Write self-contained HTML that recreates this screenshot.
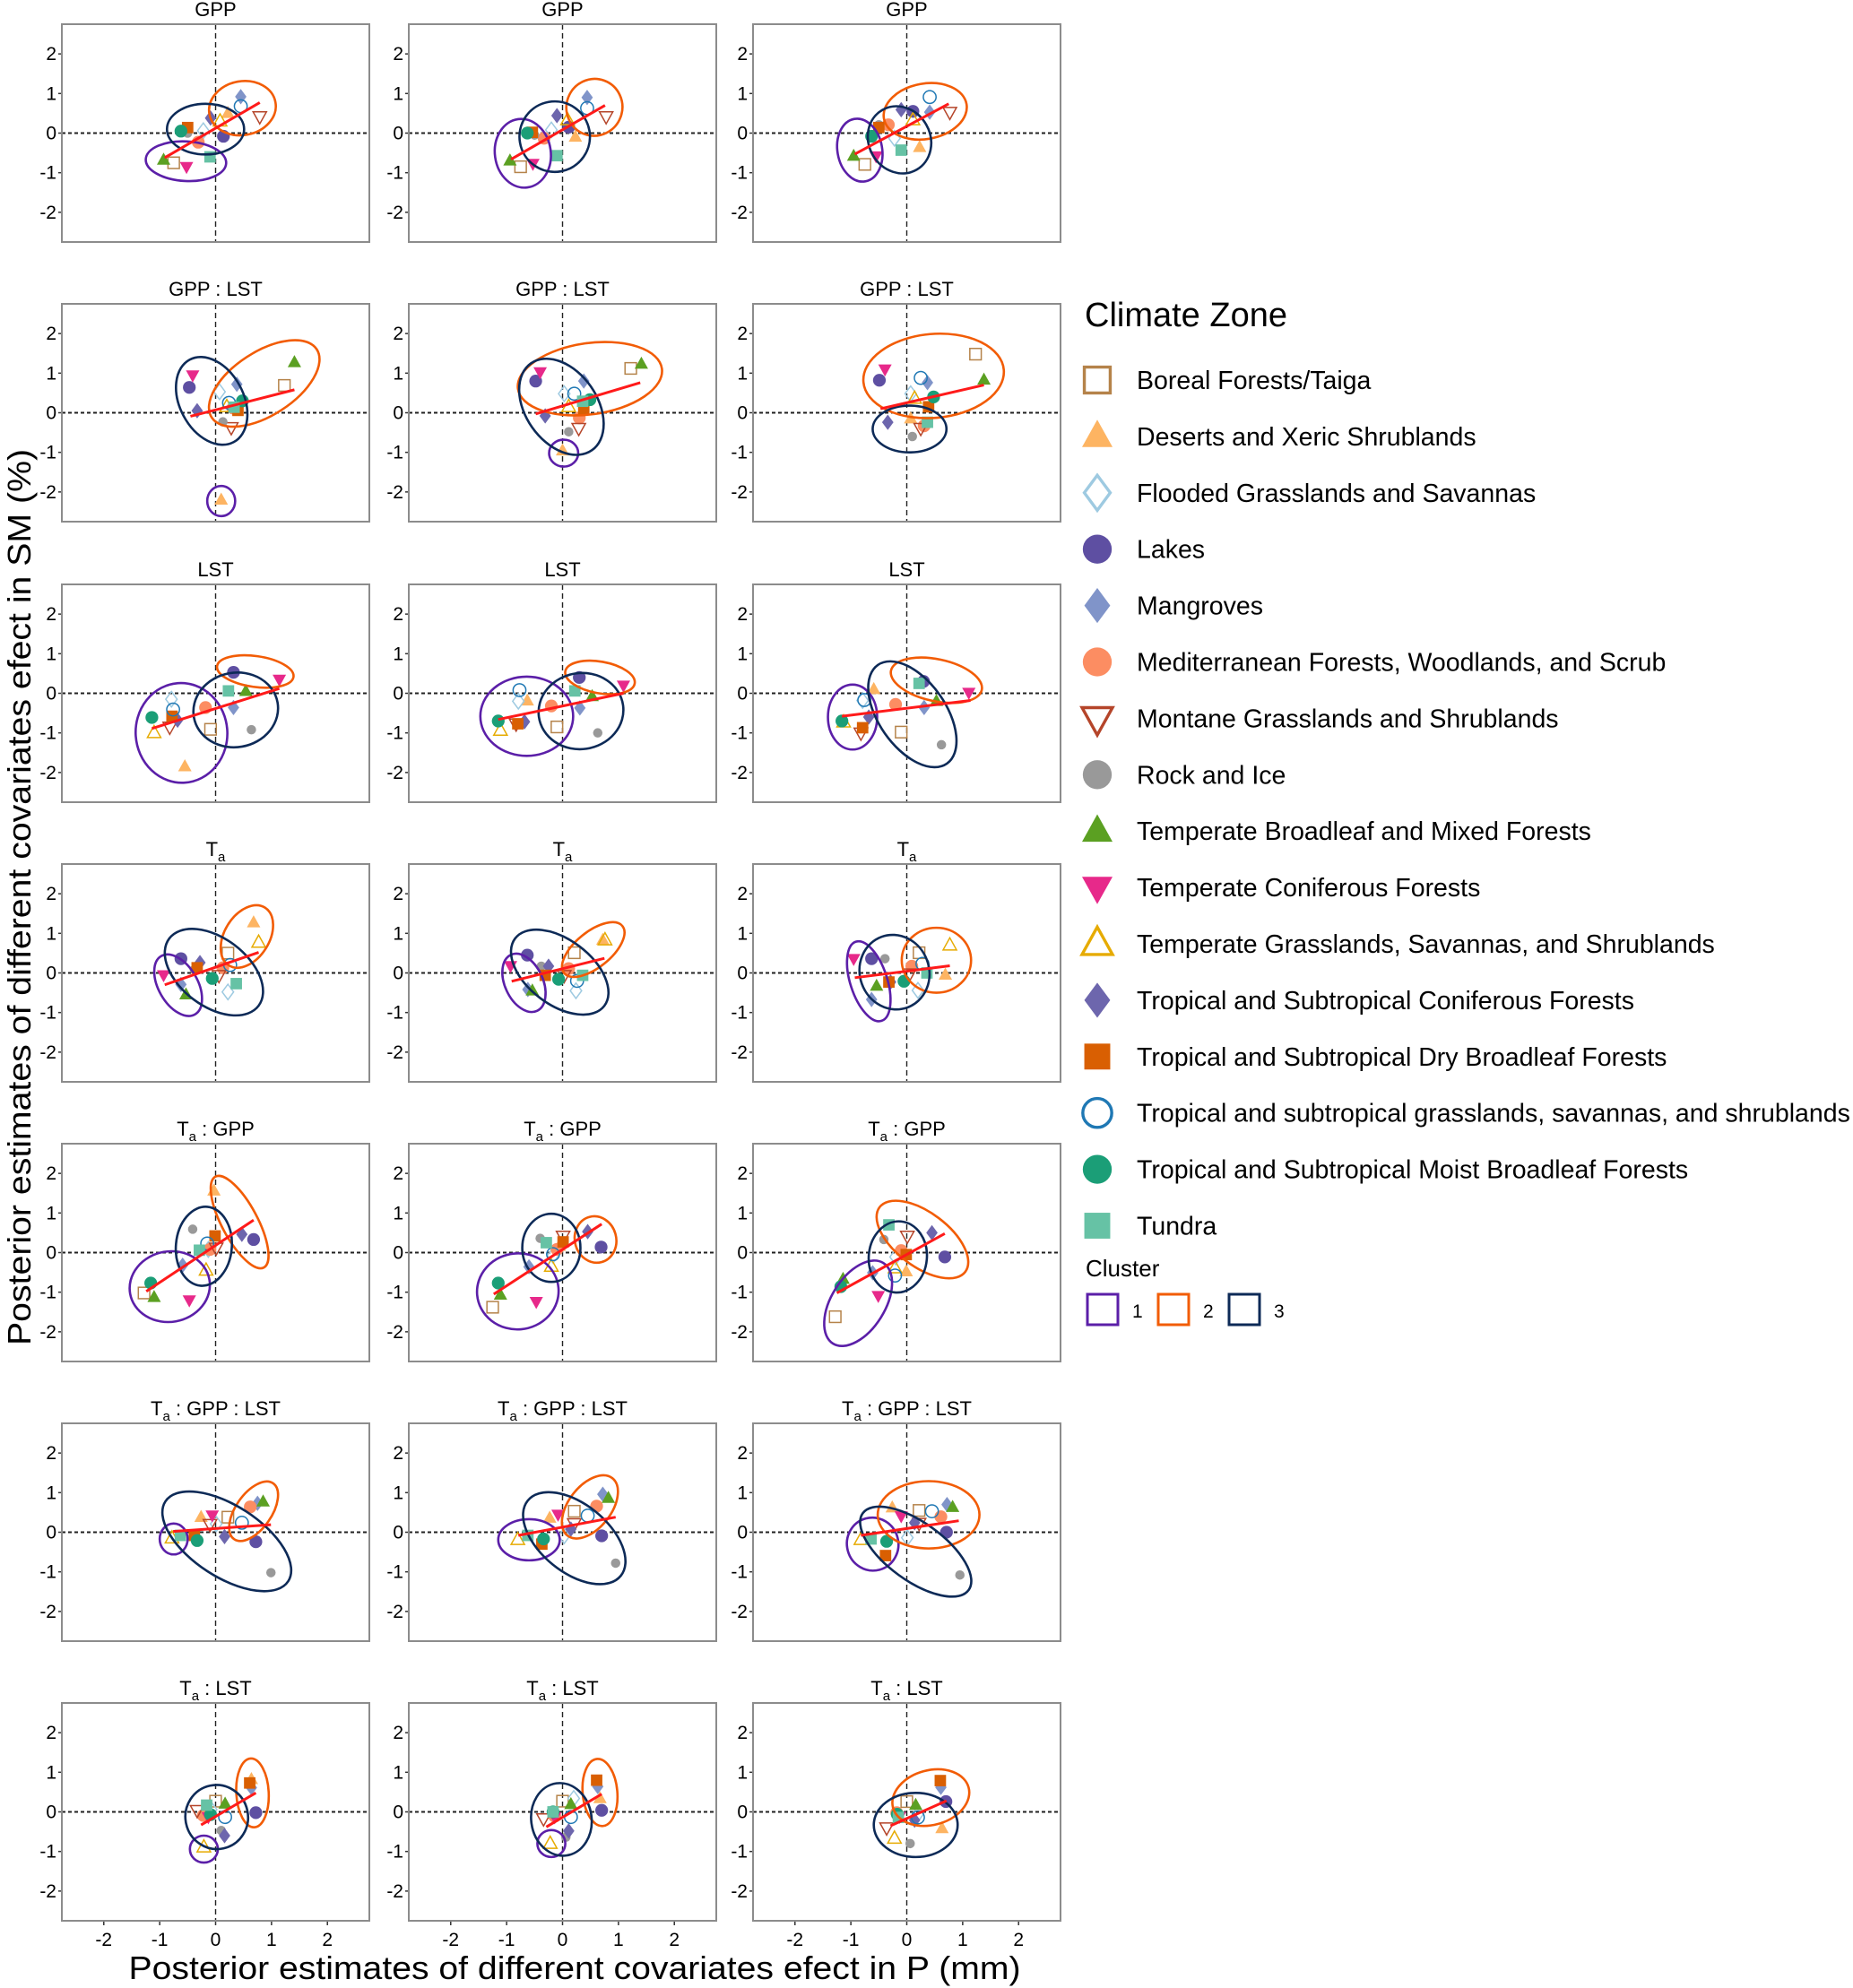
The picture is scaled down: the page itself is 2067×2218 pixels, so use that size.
<!DOCTYPE html>
<html><head><meta charset="utf-8"><style>
html,body{margin:0;padding:0;background:#fff;}
svg{display:block;font-family:"Liberation Sans",Arial,sans-serif;}
</style></head><body>
<svg id="fig" width="2067" height="2218" viewBox="0 0 2067 2218" xmlns="http://www.w3.org/2000/svg"></svg>
<script>
// ---- data ----
const rowTitles = ['GPP','GPP : LST','LST','T_a','T_a : GPP','T_a : GPP : LST','T_a : LST'];
const zoneNames = ['Boreal Forests/Taiga','Deserts and Xeric Shrublands','Flooded Grasslands and Savannas','Lakes','Mangroves','Mediterranean Forests, Woodlands, and Scrub','Montane Grasslands and Shrublands','Rock and Ice','Temperate Broadleaf and Mixed Forests','Temperate Coniferous Forests','Temperate Grasslands, Savannas, and Shrublands','Tropical and Subtropical Coniferous Forests','Tropical and Subtropical Dry Broadleaf Forests','Tropical and subtropical grasslands, savannas, and shrublands','Tropical and Subtropical Moist Broadleaf Forests','Tundra'];
const tickVals = [-2,-1,0,1,2];
const tickLabels = ['-2','-1','0','1','2'];
const clusterLabels = ['1','2','3'];
// x values per panel (16 zones each, legend order)
const xVals = [
[-0.75,0.22,-0.22,0.14,0.45,-0.31,0.79,-0.5,-0.93,-0.52,0.08,-0.09,-0.5,0.45,-0.62,-0.1],
[-0.75,0.23,-0.2,0.11,0.44,-0.33,0.78,-0.5,-0.94,-0.53,0.09,-0.1,-0.54,0.44,-0.63,-0.1],
[-0.75,0.23,-0.22,0.11,0.41,-0.33,0.77,-0.5,-0.95,-0.55,0.11,-0.1,-0.5,0.41,-0.63,-0.1],
[1.23,0.1,0.07,-0.47,0.38,0.31,0.28,0.13,1.41,-0.41,0.2,-0.33,0.4,0.24,0.48,0.33],
[1.22,0,0.03,-0.48,0.38,0.3,0.29,0.11,1.41,-0.4,0.11,-0.31,0.38,0.21,0.49,0.36],
[1.23,0.07,0.07,-0.49,0.37,0.31,0.25,0.1,1.38,-0.39,0.14,-0.34,0.39,0.25,0.48,0.37],
[-0.09,-0.55,-0.79,0.32,0.32,-0.18,-0.82,0.64,0.54,1.14,-1.1,-0.68,-0.78,-0.76,-1.14,0.23],
[-0.1,-0.63,-0.79,0.3,0.31,-0.2,-0.83,0.63,0.53,1.09,-1.11,-0.68,-0.8,-0.77,-1.15,0.22],
[-0.1,-0.59,-0.79,0.3,0.31,-0.2,-0.82,0.62,0.53,1.11,-1.13,-0.68,-0.79,-0.76,-1.16,0.22],
[0.22,0.68,0.22,-0.62,-0.62,0.13,0.06,-0.38,-0.53,-0.93,0.77,-0.28,-0.33,0.26,-0.06,0.37],
[0.21,0.72,0.24,-0.63,-0.62,0.11,0.03,-0.38,-0.54,-0.93,0.76,-0.25,-0.31,0.26,-0.07,0.36],
[0.22,0.69,0.2,-0.63,-0.63,0.09,0.05,-0.39,-0.54,-0.95,0.77,-0.29,-0.32,0.28,-0.05,0.36],
[-1.28,-0.03,-0.13,0.68,-0.59,-0.1,0.01,-0.41,-1.1,-0.47,-0.17,0.47,-0.01,-0.15,-1.16,-0.29],
[-1.25,-0.06,-0.17,0.69,-0.6,-0.1,0.01,-0.4,-1.11,-0.47,-0.2,0.45,0.01,-0.17,-1.15,-0.29],
[-1.28,-0.01,-0.2,0.68,-0.61,-0.1,0.01,-0.41,-1.14,-0.51,-0.21,0.45,-0.01,-0.21,-1.18,-0.32],
[0.22,-0.26,0.01,0.72,0.75,0.62,-0.1,0.99,0.85,-0.06,-0.78,0.16,-0.38,0.47,-0.33,-0.63],
[0.21,-0.23,0.03,0.7,0.72,0.61,0.21,0.95,0.82,-0.08,-0.8,0.15,-0.37,0.45,-0.34,-0.62],
[0.22,-0.26,0.01,0.71,0.72,0.61,0.22,0.95,0.82,-0.1,-0.82,0.14,-0.38,0.45,-0.36,-0.64],
[0,0.64,-0.08,0.72,0.64,-0.22,-0.33,0.1,0.17,-0.13,-0.21,0.16,0.61,0.17,-0.09,-0.16],
[0,0.67,0.2,0.7,0.63,-0.14,-0.34,0.06,0.15,-0.14,-0.22,0.11,0.61,0.15,-0.17,-0.17],
[0,0.63,0.2,0.7,0.61,-0.18,-0.36,0.06,0.16,-0.13,-0.22,0.14,0.6,0.2,-0.17,-0.15]];
// y values per panel
const yVals = [
[-0.75,0.5,0.06,-0.08,0.92,-0.23,0.42,0,-0.68,-0.85,0.3,0.38,0.14,0.68,0.05,-0.6],
[-0.85,-0.1,0.08,0.15,0.9,-0.13,0.42,-0.05,-0.7,-0.77,0.33,0.44,0.02,0.63,0,-0.57],
[-0.79,-0.36,-0.13,0.55,0.53,0.21,0.53,0.21,-0.58,-0.58,0.33,0.59,0.14,0.91,-0.08,-0.43],
[0.69,-2.2,0.53,0.64,0.72,0.12,-0.37,-0.23,1.27,0.95,0.15,0.05,0.06,0.25,0.3,0.14],
[1.12,-0.96,0.48,0.8,0.8,-0.13,-0.39,-0.48,1.23,1.03,0.15,-0.08,0.1,0.48,0.33,0.29],
[1.48,-0.15,0.48,0.82,0.76,-0.33,-0.39,-0.6,0.83,1.1,0.36,-0.24,0.15,0.88,0.4,-0.24],
[-0.91,-1.85,-0.15,0.53,-0.36,-0.36,-0.85,-0.92,0.05,0.35,-1.0,-0.68,-0.58,-0.41,-0.61,0.06],
[-0.85,-0.19,-0.2,0.4,-0.37,-0.32,-0.77,-1.0,-0.08,0.2,-0.94,-0.72,-0.77,0.08,-0.7,0.06],
[-0.98,0.1,-0.18,0.3,-0.36,-0.28,-1.0,-1.3,-0.2,0.02,-0.73,-0.6,-0.87,-0.17,-0.7,0.25],
[0.5,1.27,-0.48,0.36,-0.29,0.13,-0.06,0.08,-0.55,-0.05,0.77,0.26,0.13,0.2,-0.14,-0.27],
[0.51,0.83,-0.45,0.45,-0.42,0.11,-0.06,0.17,-0.45,0.18,0.83,0.17,-0.06,-0.2,-0.16,-0.06],
[0.51,-0.05,-0.44,0.36,-0.67,0.17,-0.02,0.36,-0.33,0.36,0.7,-0.23,-0.23,0.23,-0.21,0],
[-1.02,1.56,0.08,0.33,-0.32,0.08,0.12,0.59,-1.13,-1.2,-0.45,0.46,0.42,0.23,-0.77,0.06],
[-1.38,0.16,-0.07,0.14,-0.36,0.08,0.42,0.36,-1.07,-1.24,-0.35,0.53,0.27,-0.04,-0.77,0.25],
[-1.62,-0.48,-0.11,-0.11,-0.51,0.05,0.42,0.33,-0.67,-1.09,-0.39,0.5,-0.05,-0.58,-0.86,0.7],
[0.38,0.38,0.21,-0.24,0.73,0.64,0.2,-1.02,0.77,0.43,-0.15,-0.11,-0.08,0.24,-0.21,-0.08],
[0.53,0.36,-0.09,-0.09,0.96,0.66,0.22,-0.78,0.86,0.45,-0.19,0.08,-0.3,0.42,-0.17,-0.08],
[0.55,0.62,-0.14,0,0.7,0.39,0.23,-1.08,0.63,0.41,-0.19,0.24,-0.59,0.53,-0.23,-0.17],
[0.27,0.82,0.06,-0.02,0.61,-0.09,0.04,-0.47,0.2,-0.13,-0.89,-0.6,0.73,-0.13,-0.07,0.17],
[0.27,0.34,0.34,0.04,0.64,-0.11,-0.17,-0.64,0.19,-0.13,-0.8,-0.48,0.8,-0.13,0,0],
[0.26,-0.42,-0.05,0.26,0.62,-0.02,-0.4,-0.8,0.17,-0.12,-0.67,-0.21,0.79,-0.14,-0.06,-0.14]];
// regression lines [x1,y1,x2,y2]
const fitLines = [
[-0.91,-0.62,0.79,0.77],[-0.92,-0.66,0.76,0.7],[-0.93,-0.53,0.75,0.74],
[-0.45,-0.09,1.41,0.58],[-0.48,-0.03,1.39,0.76],[-0.47,0.1,1.38,0.7],
[-1.14,-0.89,1.14,0.12],[-1.15,-0.66,1.09,0.0],[-1.16,-0.58,1.14,-0.18],
[-0.91,-0.3,0.77,0.52],[-0.91,-0.21,0.75,0.37],[-0.93,-0.12,0.77,0.18],
[-1.24,-0.98,0.68,0.82],[-1.23,-1.05,0.7,0.72],[-1.25,-1.02,0.68,0.48],
[-0.76,0.02,0.99,0.19],[-0.79,-0.08,0.95,0.38],[-0.82,-0.08,0.93,0.29],
[-0.26,-0.33,0.72,0.48],[-0.29,-0.38,0.7,0.45],[-0.29,-0.35,0.71,0.28]];
// cluster ellipses [cx,cy,rx,ry,angle] for clusters 1,2,3
const cluster1 = [
[-0.53,-0.71,0.72,0.5,3],[-0.71,-0.51,0.5,0.87,-8],[-0.84,-0.43,0.4,0.8,-10],
[0.1,-2.23,0.25,0.38,0],[0.02,-1.02,0.26,0.34,0],null,
[-0.61,-1.0,0.82,1.26,-4],[-0.64,-0.58,0.83,1.0,0],[-0.97,-0.6,0.44,0.82,0],
[-0.67,-0.31,0.35,0.85,-30],[-0.69,-0.25,0.34,0.78,-25],[-0.68,-0.21,0.33,1.05,-18],
[-0.82,-0.86,0.72,0.89,-10],[-0.8,-0.98,0.73,0.96,-5],[-0.87,-1.28,0.48,1.2,32],
[-0.75,-0.17,0.25,0.39,0],[-0.6,-0.19,0.55,0.52,0],[-0.61,-0.3,0.46,0.67,-15],
[-0.21,-0.94,0.25,0.34,0],[-0.2,-0.8,0.25,0.34,0],null];
const cluster2 = [
[0.48,0.63,0.6,0.68,-10],[0.57,0.65,0.5,0.72,20],[0.33,0.55,0.75,0.7,-10],
[0.87,0.74,1.12,0.8,-33],[0.49,0.86,1.3,0.9,-8],[0.48,0.93,1.26,1.06,-5],
[0.71,0.55,0.69,0.39,8],[0.67,0.4,0.63,0.4,10],[0.53,0.33,0.83,0.53,12],
[0.56,0.92,0.4,0.86,32],[0.55,0.59,0.67,0.45,-39],[0.53,0.32,0.62,0.82,0],
[0.43,0.77,0.32,1.3,-28],[0.59,0.33,0.37,0.59,-15],[0.28,0.33,0.96,0.68,37],
[0.68,0.53,0.32,0.86,35],[0.49,0.64,0.38,0.92,38],[0.39,0.44,0.91,0.85,0],
[0.66,0.48,0.29,0.87,-3],[0.67,0.49,0.31,0.85,-5],[0.43,0.36,0.7,0.69,-15]];
const cluster3 = [
[-0.18,0.1,0.69,0.64,0],[-0.14,-0.09,0.63,0.89,-10],[-0.13,-0.17,0.55,0.87,-30],
[-0.07,0.3,0.57,1.18,-28],[-0.02,0.15,0.64,1.34,-35],[0.05,-0.41,0.66,0.59,0],
[0.36,-0.42,0.76,0.94,-10],[0.33,-0.45,0.76,0.96,-8],[0.1,-0.53,0.6,1.52,-35],
[-0.03,0.02,1.0,0.86,37],[-0.05,0.02,1.0,0.82,37],[-0.22,0.02,0.62,0.95,-20],
[-0.21,0.16,0.5,1.0,5],[-0.2,0.12,0.52,0.86,0],[-0.16,-0.11,0.52,0.9,5],
[0.2,-0.23,1.31,0.9,33],[0.21,-0.15,1.07,0.86,39],[0.16,-0.49,1.17,0.73,36],
[0.02,-0.13,0.56,0.81,-12],[-0.02,-0.19,0.54,0.92,-8],[0.16,-0.33,0.75,0.81,0]];

// ---- drawing ----
const NS='http://www.w3.org/2000/svg';
const svg=document.getElementById('fig');
function E(tag,attrs,parent){const e=document.createElementNS(NS,tag);for(const k in attrs)e.setAttribute(k,attrs[k]);(parent||svg).appendChild(e);return e;}
const zoneColors=['#b5834a','#fdb462','#9ecae1','#5e4fa2','#8094c9','#fc8d62','#b5452a','#999999','#5ba022','#e7298a','#e6ab02','#6d66ad','#d95f02','#1f78b4','#1b9e77','#66c2a5'];
const zoneShapes=['sq-o','tri','dia-o','circ','dia','circ','tri-d-o','circ-s','tri','tri-d','tri-o','dia','sq','circ-o','circ','sq'];
const clusterColors=['#5b1fa8','#f25c05','#0d2a57'];
function marker(g,shape,col,X,Y,s){
  let el;const hollow=shape.endsWith('-o');const st=hollow?{fill:'#fff','fill-opacity':0,stroke:col,'stroke-width':Math.max(1.5,s/5)}:{fill:col,stroke:'none'};
  const b=shape.replace('-o','');
  if(b==='sq'){el=E('rect',Object.assign({x:X-s*0.85,y:Y-s*0.85,width:s*1.7,height:s*1.7},st),g);}
  else if(b==='circ'){el=E('circle',Object.assign({cx:X,cy:Y,r:s*0.95},st),g);}
  else if(b==='circ-s'){el=E('circle',Object.assign({cx:X,cy:Y,r:s*0.7},st),g);}
  else if(b==='tri'){el=E('polygon',Object.assign({points:`${X},${Y-s*1.1} ${X+s},${Y+s*0.7} ${X-s},${Y+s*0.7}`},st),g);}
  else if(b==='tri-d'){el=E('polygon',Object.assign({points:`${X},${Y+s*1.1} ${X+s},${Y-s*0.7} ${X-s},${Y-s*0.7}`},st),g);}
  else if(b==='dia'){el=E('polygon',Object.assign({points:`${X},${Y-s*1.15} ${X+s*0.85},${Y} ${X},${Y+s*1.15} ${X-s*0.85},${Y}`},st),g);}
  return el;
}
const colL=[69,456,840], rowT=[27,339,652,964,1276,1588,1900];
const PW=343, PH=243, R=2.75;
function titleText(t,x,y,parent){
  const tx=E('text',{x:x,y:y,'text-anchor':'middle','font-size':22,fill:'#000'},parent);
  const parts=t.split('T_a');
  parts.forEach((p,i)=>{ if(i>0){ const a=E('tspan',{},tx);a.textContent='T'; const s=E('tspan',{dy:6,'font-size':15},tx);s.textContent='a'; const r=E('tspan',{dy:-6},tx); r.textContent=p; } else if(p){ const r=E('tspan',{},tx); r.textContent=p; } });
  return tx;
}
for(let r=0;r<7;r++){
  for(let c=0;c<3;c++){
    const p=r*3+c, L=colL[c], T=rowT[r];
    const sx=v=>L+(v+R)/(2*R)*PW, sy=v=>T+PH-(v+R)/(2*R)*PH;
    const kx=PW/(2*R), ky=PH/(2*R);
    const g=E('g',{});
    
    
    const tt=titleText(rowTitles[r],L+PW/2,T-9,g);
    
    
    const h0=E('line',{x1:L,x2:L+PW,y1:sy(0),y2:sy(0),stroke:'#222','stroke-width':2,'stroke-dasharray':'4 3'},g);
    
    
    const v0=E('line',{x1:sx(0),x2:sx(0),y1:T,y2:T+PH,stroke:'#222','stroke-width':1.4,'stroke-dasharray':'6 4'},g);
    
    
    tickVals.forEach((v,i)=>{
      E('line',{x1:L-4,x2:L,y1:sy(v),y2:sy(v),stroke:'#333','stroke-width':1.5},g);
      const t=E('text',{x:L-6,y:sy(v)+7,'text-anchor':'end','font-size':21,fill:'#000'},g);
      t.textContent=tickLabels[i];
      
      
    });
    if(r===6){
      tickVals.forEach((v,i)=>{
        E('line',{x1:sx(v),x2:sx(v),y1:T+PH,y2:T+PH+5,stroke:'#333','stroke-width':1.5},g);
        const t=E('text',{x:sx(v),y:T+PH+28,'text-anchor':'middle','font-size':21,fill:'#000'},g);
        t.textContent=tickLabels[i];
        
        
      });
    }
    for(let k=0;k<16;k++){
      const m=marker(g,zoneShapes[k],zoneColors[k],sx(xVals[p][k]),sy(yVals[p][k]),7.5);
      
      
    }
    [cluster1,cluster2,cluster3].forEach((arr,ci)=>{
      const e=arr[p]; if(!e) return;
      const cx=sx(e[0]), cy=sy(e[1]);
      const el=E('ellipse',{cx:cx,cy:cy,rx:e[2]*kx,ry:e[3]*ky,transform:`rotate(${e[4]} ${cx} ${cy})`,fill:'none',stroke:clusterColors[ci],'stroke-width':2.6},g);
      
      
    });
    const f=fitLines[p];
    const ln=E('line',{x1:sx(f[0]),y1:sy(f[1]),x2:sx(f[2]),y2:sy(f[3]),stroke:'#ff1a1a','stroke-width':3},g);
    
    
    const fr=E('rect',{x:L,y:T,width:PW,height:PH,fill:'none',stroke:'#8c8c8c','stroke-width':2},g);
    
    
  }
}
const xt=E('text',{x:641,y:2208,'text-anchor':'middle','font-size':36,fill:'#000',textLength:995,lengthAdjust:'spacingAndGlyphs'});
xt.textContent='Posterior estimates of different covariates efect in P (mm)';


const yt=E('text',{x:0,y:0,'text-anchor':'middle','font-size':36,fill:'#000',textLength:1000,lengthAdjust:'spacingAndGlyphs',transform:'translate(34,1001) rotate(-90)'});
yt.textContent='Posterior estimates of different covariates efect in SM (%)';


const lg=E('g',{});


const lt=E('text',{x:1210,y:364,'font-size':38,fill:'#000'},lg);
lt.textContent='Climate Zone';


zoneNames.forEach((n,i)=>{
  const Y=424+62.9*i;
  const m=marker(lg,zoneShapes[i]==='circ-s'?'circ':zoneShapes[i],zoneColors[i],1224,Y,17);
  
  
  const t=E('text',{x:1268,y:Y+10,'font-size':28.5,fill:'#000'},lg);
  t.textContent=n;
  
  
});
const ct=E('text',{x:1211,y:1424,'font-size':26,fill:'#000'},lg);
ct.textContent='Cluster';


clusterLabels.forEach((l,i)=>{
  const X=1213+79*i;
  const b=E('rect',{x:X,y:1444,width:34,height:34,fill:'none',stroke:clusterColors[i],'stroke-width':3},lg);
  
  
  const t=E('text',{x:X+50,y:1470,'font-size':21,fill:'#000'},lg);
  t.textContent=l;
  
  
});
</script>
</body></html>
